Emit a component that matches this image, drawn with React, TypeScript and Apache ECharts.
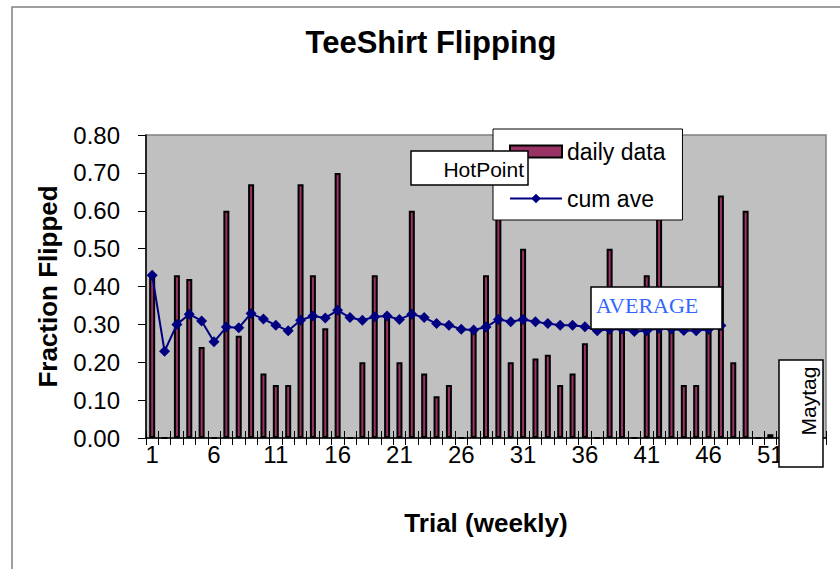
import React, { useEffect, useRef } from "react";
import * as echarts from "echarts";

const trials: string[] = Array.from({ length: 55 }, (_, i) => String(i + 1));

const dailyData: (number | null)[] = [
  0.43, 0.0, 0.43, 0.42, 0.24, 0.0, 0.6, 0.27, 0.67, 0.17,
  0.14, 0.14, 0.67, 0.43, 0.29, 0.7, 0.0, 0.2, 0.43, 0.33,
  0.2, 0.6, 0.17, 0.11, 0.14, 0.0, 0.28, 0.43, 0.67, 0.2,
  0.5, 0.21, 0.22, 0.14, 0.17, 0.25, 0.0, 0.5, 0.33, 0.0,
  0.43, 0.6, 0.33, 0.14, 0.14, 0.3, 0.64, 0.2, 0.6, 0.0,
  0.01, null, null, null, null,
];

const cumAve: (number | null)[] = [
  0.43, 0.229, 0.3, 0.327, 0.309, 0.254, 0.293, 0.291, 0.329, 0.314,
  0.298, 0.283, 0.311, 0.322, 0.317, 0.337, 0.318, 0.311, 0.32, 0.322,
  0.313, 0.327, 0.318, 0.302, 0.298, 0.287, 0.285, 0.293, 0.313, 0.307,
  0.313, 0.307, 0.302, 0.298, 0.298, 0.294, 0.283, 0.287, 0.288, 0.281,
  0.283, 0.29, 0.288, 0.284, 0.283, 0.287, 0.297,
];

const yTicks = [0, 0.8, 0.1];

export default function App() {
  const ref = useRef<HTMLDivElement>(null);
  useEffect(() => {
    if (!ref.current) return;
    const chart = echarts.init(ref.current, null, { renderer: "svg" });
    const sans = "'Liberation Sans', Arial, sans-serif";
    const serif = "'Liberation Serif', 'Times New Roman', serif";
    chart.setOption({
      animation: false,
      backgroundColor: "#ffffff",
      grid: {
        left: 146,
        right: 14,
        top: 135,
        bottom: 131,
        show: true,
        backgroundColor: "#C0C0C0",
        borderColor: "#808080",
        borderWidth: 1.5,
      },
      legend: {
        orient: "vertical",
        left: 493,
        top: 129,
        padding: [11, 17, 10, 16],
        itemGap: 24,
        itemWidth: 52,
        itemHeight: 12,
        backgroundColor: "#ffffff",
        borderColor: "#000000",
        borderWidth: 1,
        textStyle: { fontFamily: sans, fontSize: 23, color: "#000" },
        data: [
          { name: "daily data", icon: "rect" },
          { name: "cum ave" },
        ],
      },
      xAxis: [
        {
          type: "category",
          data: trials,
          boundaryGap: true,
          name: "Trial (weekly)",
          nameLocation: "middle",
          nameGap: 72,
          nameTextStyle: { fontFamily: sans, fontSize: 26, fontWeight: "bold", color: "#000" },
          axisLine: { lineStyle: { color: "#000", width: 1.5 } },
          axisTick: { show: true, interval: 0, length: 7, lineStyle: { color: "#000" } },
          axisLabel: {
            interval: 4,
            margin: 4,
            fontFamily: sans,
            fontSize: 24,
            color: "#000",
          },
          splitLine: { show: false },
        },
        {
          type: "category",
          data: trials,
          position: "bottom",
          boundaryGap: true,
          axisLine: { show: false },
          axisTick: { show: true, inside: true, interval: 0, length: 7, lineStyle: { color: "#000" } },
          axisLabel: { show: false },
          splitLine: { show: false },
        },
      ],
      yAxis: {
        type: "value",
        min: yTicks[0],
        max: yTicks[1],
        interval: yTicks[2],
        name: "Fraction Flipped",
        nameLocation: "middle",
        nameGap: 85,
        nameRotate: 90,
        nameTextStyle: { fontFamily: sans, fontSize: 26, fontWeight: "bold", color: "#000" },
        axisLine: { show: true, lineStyle: { color: "#000", width: 1.5 } },
        axisTick: { show: true, length: 8, lineStyle: { color: "#000" } },
        axisLabel: {
          margin: 26,
          fontFamily: sans,
          fontSize: 24,
          color: "#000",
          formatter: (v: number) => v.toFixed(2),
        },
        splitLine: { show: false },
      },
      series: [
        {
          name: "daily data",
          type: "bar",
          data: dailyData,
          barWidth: 6,
          itemStyle: { color: "#993366", borderColor: "#000", borderWidth: 2 },
          z: 2,
        },
        {
          name: "cum ave",
          type: "line",
          data: cumAve,
          symbol: "diamond",
          symbolSize: 11,
          showAllSymbol: true,
          lineStyle: { color: "#000080", width: 2 },
          itemStyle: { color: "#000080" },
          z: 3,
        },
      ],
      graphic: [
        {
          type: "rect",
          shape: { x: 12, y: 7, width: 900, height: 700 },
          style: { fill: "none", stroke: "#808080", lineWidth: 1.5 },
          silent: true,
          z: 0,
        },
        {
          type: "text",
          x: 431,
          y: 42,
          style: {
            text: "TeeShirt Flipping",
            fontFamily: sans,
            fontSize: 31,
            fontWeight: "bold",
            fill: "#000",
            textAlign: "center",
            textVerticalAlign: "middle",
          },
          z: 100,
        },
        {
          type: "group",
          z: 100,
          children: [
            {
              type: "rect",
              shape: { x: 411, y: 151, width: 117, height: 34 },
              style: { fill: "#fff", stroke: "#000", lineWidth: 1.5 },
              z: 100,
            },
            {
              type: "text",
              x: 524,
              y: 169,
              style: {
                text: "HotPoint",
                fontFamily: sans,
                fontSize: 21,
                fill: "#000",
                textAlign: "right",
                textVerticalAlign: "middle",
              },
              z: 101,
            },
            {
              type: "rect",
              shape: { x: 591, y: 287, width: 131, height: 42 },
              style: { fill: "#fff", stroke: "#000", lineWidth: 1.5 },
              z: 100,
            },
            {
              type: "text",
              x: 596,
              y: 305,
              style: {
                text: "AVERAGE",
                fontFamily: serif,
                fontSize: 22,
                fill: "#3366FF",
                textAlign: "left",
                textVerticalAlign: "middle",
              },
              z: 101,
            },
            {
              type: "rect",
              shape: { x: 779, y: 360, width: 44, height: 107 },
              style: { fill: "#fff", stroke: "#000", lineWidth: 1.5 },
              z: 100,
            },
            {
              type: "text",
              x: 808,
              y: 401,
              rotation: Math.PI / 2,
              style: {
                text: "Maytag",
                fontFamily: sans,
                fontSize: 21,
                fill: "#000",
                textAlign: "center",
                textVerticalAlign: "middle",
              },
              z: 101,
            },
          ],
        },
      ],
    });
    return () => chart.dispose();
  }, []);
  return (
    <div
      ref={ref}
      style={{ position: "fixed", left: 0, top: 0, width: 840, height: 569 }}
    />
  );
}
